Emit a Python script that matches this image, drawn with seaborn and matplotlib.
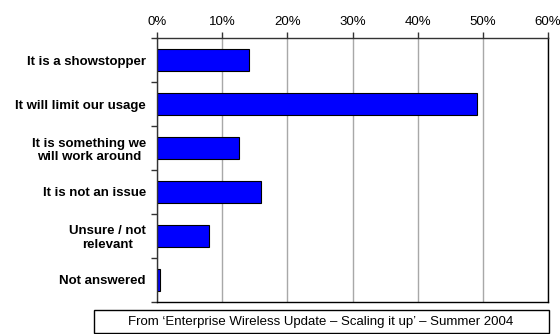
import matplotlib
matplotlib.use("Agg")
import matplotlib.pyplot as plt
from matplotlib.patches import Rectangle
from matplotlib.ticker import FixedLocator, PercentFormatter
import seaborn as sns
import pandas as pd

categories = [
    "It is a showstopper",
    "It will limit our usage",
    "It is something we\nwill work around",
    "It is not an issue",
    "Unsure / not\nrelevant",
    "Not answered",
]
shares = [14.1, 49.1, 12.6, 16.0, 8.0, 0.5]
x_ticks = [0, 10, 20, 30, 40, 50, 60]
caption = "From \u2018Enterprise Wireless Update \u2013 Scaling it up\u2019 \u2013 Summer 2004"

sns.set_theme(style="white")
plt.rcParams["font.family"] = ["Liberation Sans", "DejaVu Sans"]
plt.rcParams["text.color"] = "black"
plt.rcParams["xtick.labelcolor"] = "black"
plt.rcParams["ytick.labelcolor"] = "black"

df = pd.DataFrame({"category": categories, "share": shares})

fig = plt.figure(figsize=(5.6, 3.34), dpi=100)
ax = fig.add_axes([157 / 560, 32 / 334, 391 / 560, 264 / 334])

sns.barplot(data=df, x="share", y="category", orient="h", color="#0000FF",
            saturation=1, width=0.5, edgecolor="black", linewidth=0.8, ax=ax)

ax.set_xlim(0, 60)
ax.set_ylim(len(categories) - 0.5, -0.5)
ax.set_xlabel("")
ax.set_ylabel("")

# percentage axis on top with light vertical gridlines
ax.xaxis.tick_top()
ax.set_xticks(x_ticks)
ax.xaxis.set_major_formatter(PercentFormatter(decimals=0))
ax.tick_params(axis="x", which="major", direction="out", length=4, width=1,
               color="#333333", labelsize=9.5, pad=3, labelcolor="black")
ax.grid(axis="x", color="#a8a8a8", linewidth=1)
ax.set_axisbelow(True)

# category labels centred, ticks at category boundaries
ax.tick_params(axis="y", which="major", length=0, labelsize=9.5, pad=8,
               labelcolor="black")
for lbl in ax.get_yticklabels():
    lbl.set_fontweight("bold")
    lbl.set_multialignment("center")
    lbl.set_linespacing(1.15)
ax.yaxis.set_minor_locator(FixedLocator([i - 0.5 for i in range(len(categories) + 1)]))
ax.tick_params(axis="y", which="minor", left=True, direction="out", length=4,
               width=1, color="#333333")

for side in ["top", "bottom", "left", "right"]:
    ax.spines[side].set_visible(True)
    ax.spines[side].set_color("black")
    ax.spines[side].set_linewidth(1)
ax.spines["top"].set_color("#333333")
ax.spines["left"].set_color("#333333")

# source caption in a framed box
fig.patches.append(Rectangle((94 / 560, 1.5 / 334), 455 / 560, 22.5 / 334,
                             transform=fig.transFigure, facecolor="white",
                             edgecolor="black", linewidth=1))
fig.text(321 / 560, 12.5 / 334, caption, ha="center", va="center", fontsize=9.5)

fig.savefig("out.png", dpi=100)
